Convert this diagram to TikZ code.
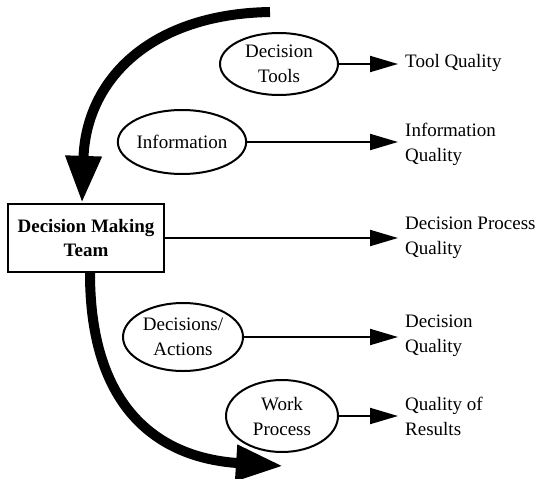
\documentclass[tikz,border=0pt]{standalone}
\usepackage{fontspec}
\setmainfont{Liberation Serif}
\usetikzlibrary{shapes.geometric,arrows.meta}
\begin{document}
\begin{tikzpicture}[x=1pt,y=-1pt,
  every node/.style={font=\fontsize{19}{25}\selectfont},
  oval/.style={ellipse,draw,line width=2pt,inner sep=0pt,align=center},
  qlabel/.style={anchor=west,inner xsep=7pt,inner ysep=0pt,align=left},
  thin arrow/.style={line width=2pt,-{Triangle[length=28pt,width=16pt]}},
  big arrow/.style={line width=10pt,-{Triangle[length=47pt,width=34pt]}}]
\useasboundingbox (0,0) rectangle (538,479);
% main box
\node[draw,line width=2.2pt,minimum width=156pt,minimum height=68pt,inner sep=0pt,
      align=center,font=\fontsize{19}{24}\selectfont\bfseries] (team) at (86,238)
      {Decision Making\\Team};
% ellipses
\node[oval,minimum width=118pt,minimum height=62pt] (tools) at (279,64) {Decision\\Tools};
\node[oval,minimum width=120pt,minimum height=64pt] (info) at (182,142) {Information};
\node[oval,minimum width=120pt,minimum height=68pt] (dec) at (183,337) {Decisions/\\Actions};
\node[oval,minimum width=112pt,minimum height=72pt] (work) at (282,416) {Work\\Process};
% quality labels
\node[qlabel] (ltool) at (398,63) {Tool Quality};
\node[qlabel] (linfo) at (398,144) {Information\\Quality};
\node[qlabel] (lproc) at (398,238) {Decision Process\\Quality};
\node[qlabel] (ldec) at (398,336) {Decision\\Quality};
\node[qlabel] (lres) at (398,416) {Quality of\\Results};
% thin arrows
\draw[thin arrow] (tools.east) -- (tools.east -| ltool.west);
\draw[thin arrow] (info.east) -- (info.east -| linfo.west);
\draw[thin arrow] (team.east) -- (team.east -| lproc.west);
\draw[thin arrow] (dec.east) -- (dec.east -| ldec.west);
\draw[thin arrow] (work.east) -- (work.east -| lres.west);
% big curved arrows
\coordinate (s1) at (270,12);
\coordinate (x1) at (82,0);
\coordinate (x2) at (90,0);
\coordinate (e2) at (283,466);
\draw[big arrow] (s1) .. controls (150,14) and (86,80) .. (team.north -| x1);
\draw[big arrow] (team.south -| x2) .. controls (90,410) and (160,458) .. (e2);
\end{tikzpicture}
\end{document}
